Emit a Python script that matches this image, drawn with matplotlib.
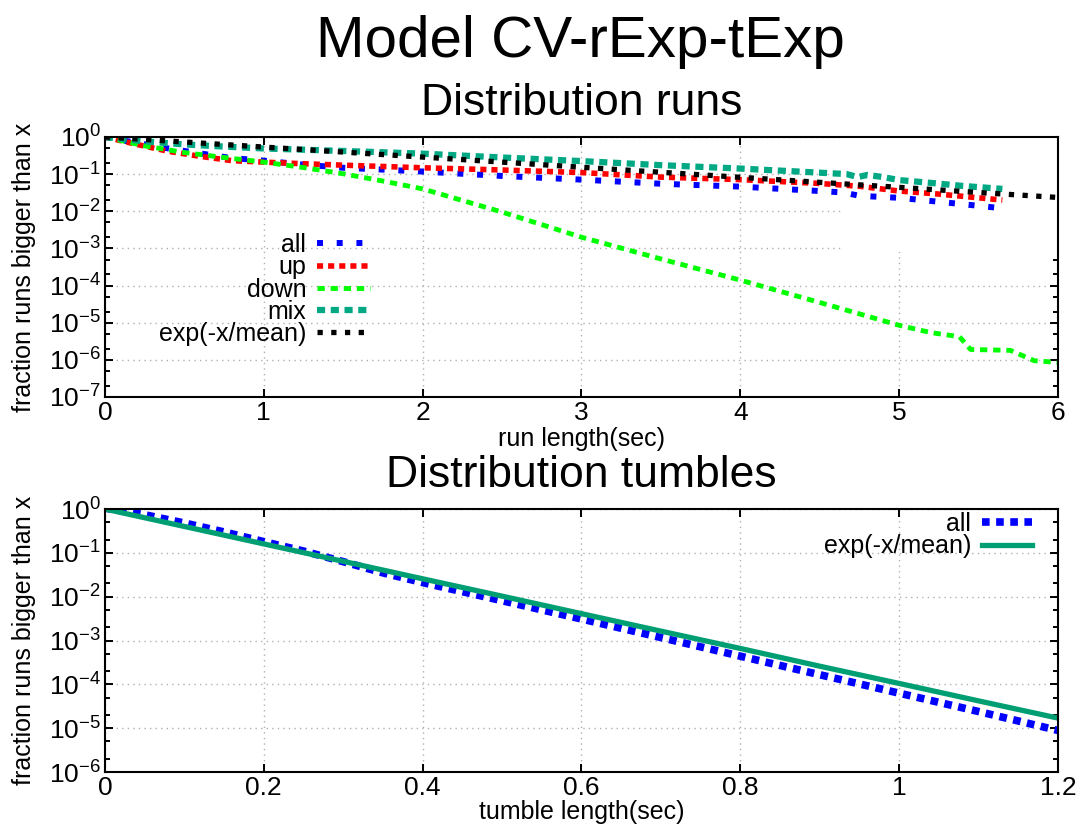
import matplotlib
matplotlib.use("Agg")
import matplotlib.pyplot as plt
from matplotlib.ticker import LogLocator, FixedLocator, NullLocator, FormatStrFormatter
from matplotlib.patches import Rectangle

plt.rcParams["font.family"] = ["Liberation Sans", "DejaVu Sans"]
plt.rcParams["mathtext.fontset"] = "custom"
plt.rcParams["mathtext.rm"] = "Liberation Sans"
plt.rcParams["mathtext.it"] = "Liberation Sans"
plt.rcParams["mathtext.bf"] = "Liberation Sans:bold"

# ---- run length survival curves ----
all_x = [0, 0.2, 0.4, 0.6, 0.8, 1.0, 1.25, 1.5, 1.75, 2.0, 2.5, 3.0, 3.5, 4.0,
         4.5, 4.65, 4.75, 5.0, 5.25, 5.5, 5.65]
all_y = [1.0, 0.69, 0.49, 0.36, 0.27, 0.23, 0.18, 0.148, 0.132, 0.117, 0.089,
         0.071, 0.055, 0.046, 0.035, 0.032, 0.026, 0.023, 0.018, 0.014, 0.012]

up_x = [0, 0.2, 0.4, 0.6, 0.8, 1.0, 1.25, 1.5, 2.0, 2.5, 3.0, 3.5, 4.0, 4.5,
        4.75, 5.0, 5.25, 5.5, 5.65]
up_y = [1.0, 0.63, 0.41, 0.30, 0.23, 0.21, 0.19, 0.174, 0.148, 0.129, 0.110,
        0.083, 0.071, 0.056, 0.047, 0.035, 0.029, 0.023, 0.020]

down_x = [0, 0.25, 0.5, 0.75, 1.0, 1.25, 1.5, 1.75, 2.0, 2.5, 3.0, 3.5, 4.0,
          4.5, 5.0, 5.2, 5.38, 5.45, 5.7, 5.85, 6.0]
down_y = [1.0, 0.575, 0.38, 0.28, 0.21, 0.15, 0.102, 0.065, 0.040, 9.5e-3,
          2.0e-3, 5.2e-4, 1.4e-4, 3.5e-5, 8.5e-6, 5.4e-6, 4.2e-6, 1.9e-6,
          1.8e-6, 9.5e-7, 8.5e-7]

mix_x = [0, 0.25, 0.5, 0.75, 1.0, 1.5, 2.0, 2.5, 3.0, 3.5, 4.0, 4.4, 4.67,
         4.74, 4.8, 4.9, 5.0, 5.2, 5.4, 5.65]
mix_y = [1.0, 0.76, 0.63, 0.55, 0.49, 0.42, 0.355, 0.28, 0.224, 0.174, 0.141,
         0.115, 0.100, 0.083, 0.095, 0.083, 0.069, 0.058, 0.048, 0.040]

run_exp_x = [0, 0.5, 1.0, 1.5, 2.0, 2.5, 3.0, 3.5, 4.0, 4.5, 5.0, 5.5, 6.0]
run_exp_y = [1.0, 0.732, 0.535, 0.392, 0.287, 0.210, 0.153, 0.112, 0.082,
             0.060, 0.044, 0.032, 0.0235]

# ---- tumble length survival curves ----
tumble_x = [0, 0.05, 0.1, 0.15, 0.2, 0.25, 0.3, 0.35, 0.4, 0.5, 0.6, 0.7, 0.8,
            0.9, 1.0, 1.1, 1.2]
tumble_y = [1.05, 0.74, 0.48, 0.30, 0.18, 0.11, 0.063, 0.035, 0.021, 8.1e-3,
            3.1e-3, 1.17e-3, 4.4e-4, 1.66e-4, 6.3e-5, 2.4e-5, 8.9e-6]

tumble_exp_x = [0, 0.1, 0.2, 0.3, 0.4, 0.5, 0.6, 0.7, 0.8, 0.9, 1.0, 1.1, 1.2]
tumble_exp_y = [1.0, 0.400, 0.160, 0.0641, 0.0256, 0.0103, 4.1e-3, 1.64e-3,
                6.6e-4, 2.6e-4, 1.05e-4, 4.2e-5, 1.7e-5]

FS = 18


def style_axes(ax, xmax, xstep, ymin):
    ax.set_yscale("log")
    ax.set_xlim(0, xmax)
    ax.set_ylim(ymin, 1.0)
    ax.xaxis.set_major_locator(FixedLocator([i * xstep for i in range(int(round(xmax / xstep)) + 1)]))
    ax.xaxis.set_major_formatter(FormatStrFormatter("%g"))
    ax.xaxis.set_minor_locator(NullLocator())
    ax.yaxis.set_major_locator(LogLocator(base=10, numticks=20))
    ax.yaxis.set_minor_locator(LogLocator(base=10, subs=(2, 5), numticks=20))
    ax.tick_params(which="both", direction="in", top=True, right=True,
                   width=1.4, labelsize=19)
    ax.tick_params(which="major", length=6, pad=3)
    ax.tick_params(which="minor", length=3.5)
    for s in ax.spines.values():
        s.set_linewidth(1.5)
    ax.set_axisbelow(True)
    ax.grid(True, which="major", color="#b0b0b0", linestyle=(0, (1, 3)), linewidth=1)
    ax.set_ylabel("fraction runs bigger than x", fontsize=FS, labelpad=9)


fig = plt.figure(figsize=(10.81, 8.25), dpi=100)
fig.text(0.537, 0.949, "Model CV-rExp-tExp", ha="center", va="center", fontsize=42)

# top panel: run lengths
ax1 = fig.add_axes([0.0971, 0.5188, 0.8816, 0.3152])
style_axes(ax1, 6, 1, 1e-7)
ax1.add_patch(Rectangle((0.774, 0.558), 0.226, 0.442, transform=ax1.transAxes,
                        facecolor="white", edgecolor="none", zorder=1))
ax1.plot(all_x, all_y, color="#0000ff", lw=4.3, dashes=(1.0, 2.3), label="all", zorder=2)
ax1.plot(up_x, up_y, color="#ff0000", lw=4.0, dashes=(1.1, 0.9), label="up", zorder=2)
ax1.plot(down_x, down_y, color="#00ff00", lw=3.5, dashes=(1.5, 1.2), label="down", zorder=2)
ax1.plot(mix_x, mix_y, color="#00a884", lw=4.5, dashes=(1.3, 0.9), label="mix", zorder=2)
ax1.plot(run_exp_x, run_exp_y, color="black", lw=3.8, dashes=(1.0, 1.6),
         label="exp(-x/mean)", zorder=2)
ax1.set_xlabel("run length(sec)", fontsize=FS, labelpad=1)
ax1.set_title("Distribution runs", fontsize=32, pad=16)
ax1.legend(loc="upper right", bbox_to_anchor=(0.278, 0.63), frameon=False,
           markerfirst=False, fontsize=FS, handlelength=2.1, handletextpad=0.45,
           labelspacing=-0.07, borderpad=0, borderaxespad=0)

# bottom panel: tumble lengths
ax2 = fig.add_axes([0.0971, 0.0642, 0.8816, 0.3188])
style_axes(ax2, 1.2, 0.2, 1e-6)
ax2.plot(tumble_x, tumble_y, color="#0000ff", lw=5.5, dashes=(1.0, 0.85), label="all")
ax2.plot(tumble_exp_x, tumble_exp_y, color="#009e73", lw=3.8, label="exp(-x/mean)")
ax2.set_xlabel("tumble length(sec)", fontsize=FS, labelpad=0)
ax2.set_title("Distribution tumbles", fontsize=32, pad=16)
ax2.legend(loc="upper right", bbox_to_anchor=(0.973, 0.99), frameon=False,
           markerfirst=False, fontsize=FS, handlelength=2.0, handletextpad=0.45,
           labelspacing=-0.05, borderpad=0, borderaxespad=0)

fig.savefig("out.png", dpi=100)
